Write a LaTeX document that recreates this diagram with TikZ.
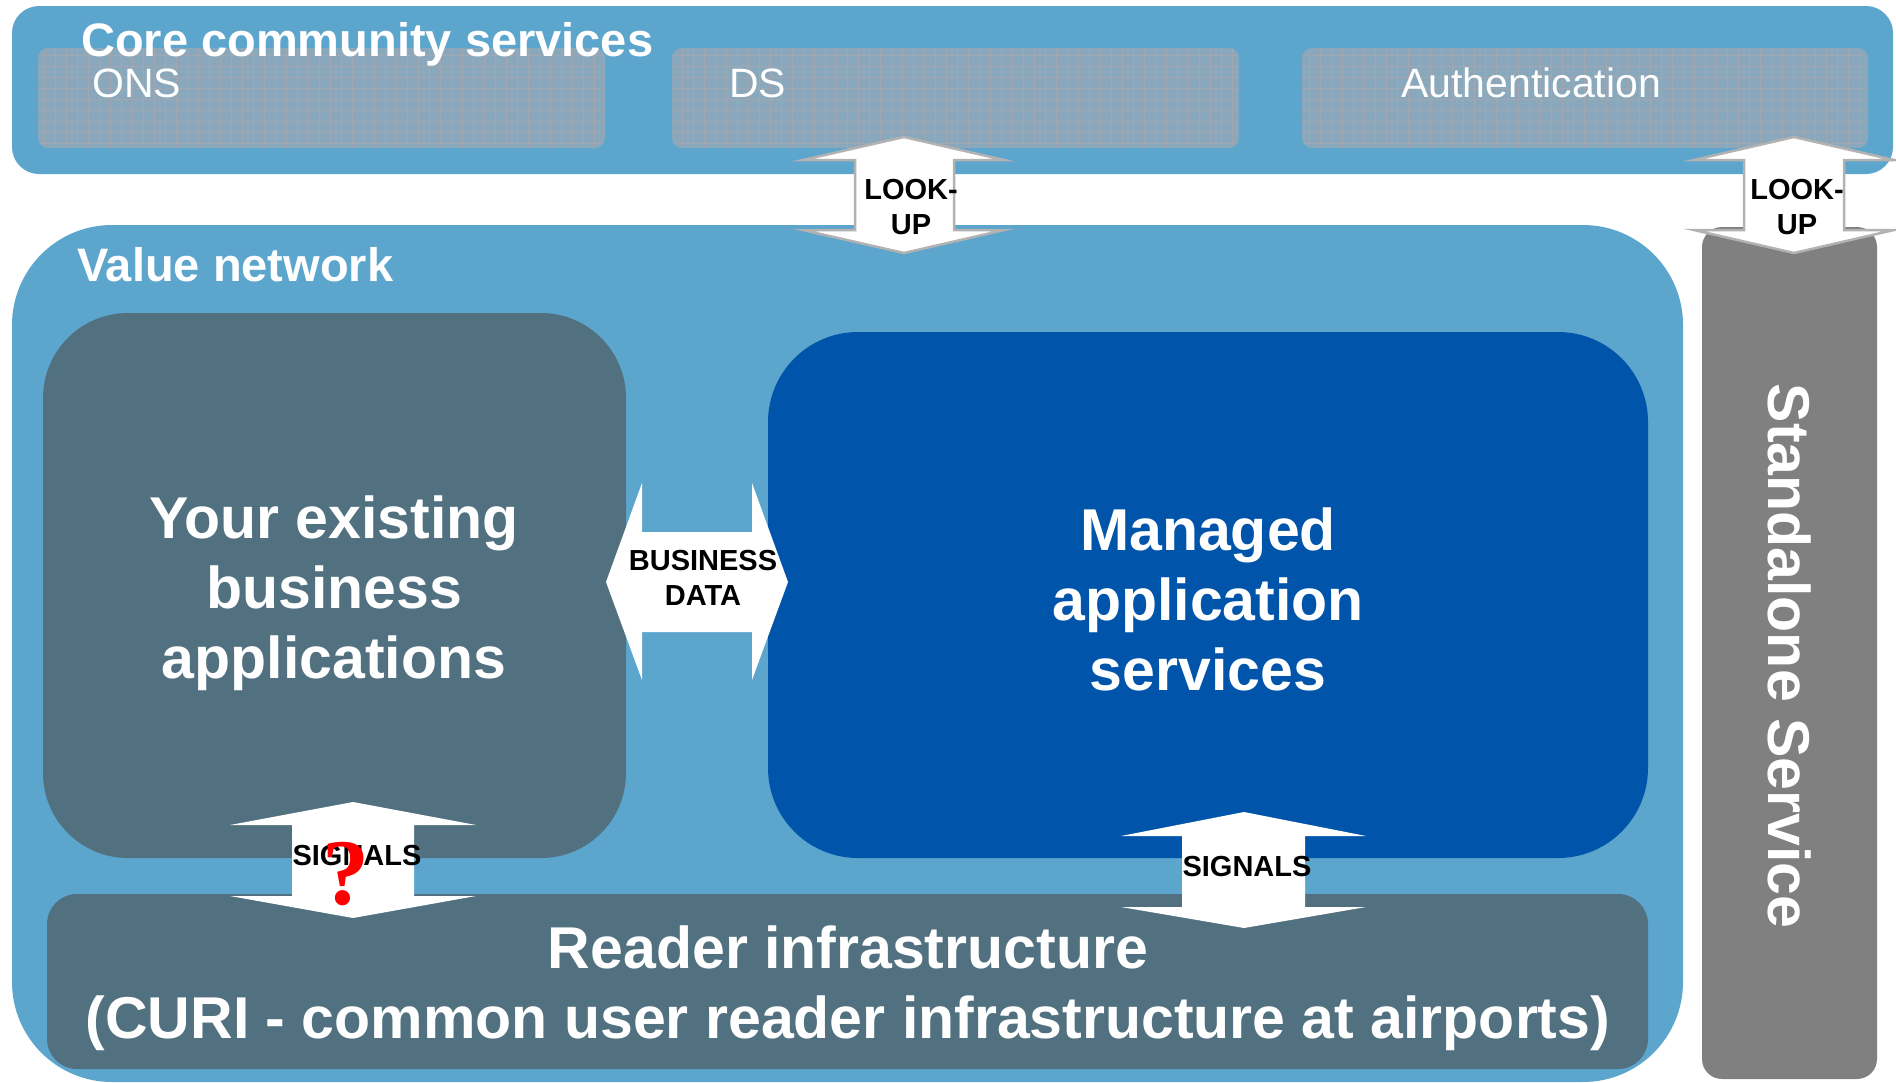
\documentclass[tikz,border=0pt]{standalone}
\usepackage{fontspec}
\setmainfont{Liberation Sans}
\newfontfamily\queryfont{Liberation Serif}

\definecolor{netblue}{RGB}{92,165,205}
\definecolor{slate}{RGB}{82,113,128}
\definecolor{mgblue}{RGB}{0,85,170}
\definecolor{standgray}{RGB}{128,128,128}
\definecolor{svcfill}{RGB}{137,168,188}
\definecolor{svcgrid}{RGB}{168,166,174}
\definecolor{arrowrim}{RGB}{178,178,178}

\begin{document}
\begin{tikzpicture}[x=1pt,y=-1pt,
  panel/.style={draw=none,inner sep=0pt,outer sep=0pt,anchor=north west},
  svc/.style={panel,fill=svcfill,rounded corners=10pt,minimum width=567pt,minimum height=100pt},
  svclabel/.style={anchor=base west,inner sep=0pt,text=white,font=\fontsize{41}{41}\selectfont},
  heading/.style={anchor=base west,inner sep=0pt,text=white,font=\bfseries\fontsize{47}{47}\selectfont},
  bigtext/.style={inner sep=0pt,text=white,align=center,font=\bfseries\fontsize{59}{70}\selectfont},
  arrowtext/.style={inner sep=0pt,text=black,align=center,font=\bfseries\fontsize{29}{35}\selectfont},
  lookup/.style={fill=white,draw=arrowrim,line width=2.5pt,line join=miter},
  blockarrow/.style={fill=white,draw=none}]

\path[use as bounding box,fill=white] (0,0) rectangle (1896,1082);

% core community services band
\node[panel,fill=netblue,rounded corners=27pt,minimum width=1881pt,minimum height=168pt] (core) at (12,6) {};
\node[svc] (ons) at (38,48) {};
\node[svc] (ds) at (672,48) {};
\node[svc,minimum width=566pt] (auth) at (1302,48) {};
\foreach \b in {ons,ds,auth}{
  \begin{scope}
    \clip[rounded corners=10pt] (\b.south west) rectangle (\b.north east);
    \draw[svcgrid,line width=0.8pt,step=11pt,opacity=0.8] (\b.south west) grid (\b.north east);
  \end{scope}
}
\node[svclabel] (onslabel) at (92,97) {ONS};
\node[svclabel] (dslabel) at (729,97) {DS};
\node[svclabel] (authlabel) at (1401,97) {Authentication};
\node[heading] (coretitle) at (81,56) {Core community services};

% value network
\node[panel,fill=netblue,rounded corners=100pt,minimum width=1671pt,minimum height=857pt] (value) at (12,225) {};
\node[heading] (valuetitle) at (77,281) {Value network};

\node[panel,fill=slate,rounded corners=85pt,minimum width=583pt,minimum height=545pt] (existing) at (43,313) {};
\node[bigtext] (existingtext) at (334,593) {Your existing\\business\\applications};

\node[panel,fill=mgblue,rounded corners=90pt,minimum width=880pt,minimum height=526pt] (managed) at (768,332) {};
\node[bigtext] (managedtext) at (1208,599) {Managed\\application\\services};

\node[panel,fill=slate,rounded corners=30pt,minimum width=1601pt,minimum height=175pt] (reader) at (47,894) {};
\node[bigtext] (readertext) at (848,988) {Reader infrastructure\\(CURI - common user reader infrastructure at airports)};

% standalone service column
\node[panel,fill=standgray,rounded corners=20pt,minimum width=175pt,minimum height=852pt] (standalone) at (1702,227) {};
\node[rotate=-90,anchor=base,inner sep=0pt,text=white,font=\bfseries\fontsize{59}{59}\selectfont] (standtext) at (1768,656) {Standalone Service};

% look-up arrows
\draw[lookup] (904,137) -- (1004,160) -- (954,160) -- (954,230) -- (1004,230) -- (904,253)
  -- (803,230) -- (855,230) -- (855,160) -- (803,160) -- cycle;
\node[arrowtext] (lookupa) at (911,207) {LOOK-\\UP};

\draw[lookup] (1794,137) -- (1894,160) -- (1844,160) -- (1844,230) -- (1894,230) -- (1794,253)
  -- (1694,230) -- (1744,230) -- (1744,160) -- (1694,160) -- cycle;
\node[arrowtext] (lookupb) at (1797,207) {LOOK-\\UP};

% business data arrow
\fill[blockarrow] (606,582) -- (642,483) -- (642,532) -- (752,532) -- (752,483) -- (788,582)
  -- (752,680) -- (752,632) -- (642,632) -- (642,680) -- cycle;
\node[arrowtext] (bizdata) at (703,578) {BUSINESS\\DATA};

% signal arrows
\fill[blockarrow] (353,802) -- (476,825) -- (414,825) -- (414,896) -- (476,896) -- (353,918)
  -- (230,896) -- (292,896) -- (292,825) -- (230,825) -- cycle;
\node[arrowtext,anchor=base] (signalsa) at (357,865) {SIGNALS};
\node[anchor=base,inner sep=0pt,text=red,font=\queryfont\bfseries\fontsize{94}{94}\selectfont] (query) at (346,904) {?};

\fill[blockarrow] (1244,812) -- (1366,836) -- (1305,836) -- (1305,907) -- (1366,907) -- (1244,928)
  -- (1121,907) -- (1182,907) -- (1182,836) -- (1121,836) -- cycle;
\node[arrowtext,anchor=base] (signalsb) at (1247,876) {SIGNALS};

\end{tikzpicture}
\end{document}
